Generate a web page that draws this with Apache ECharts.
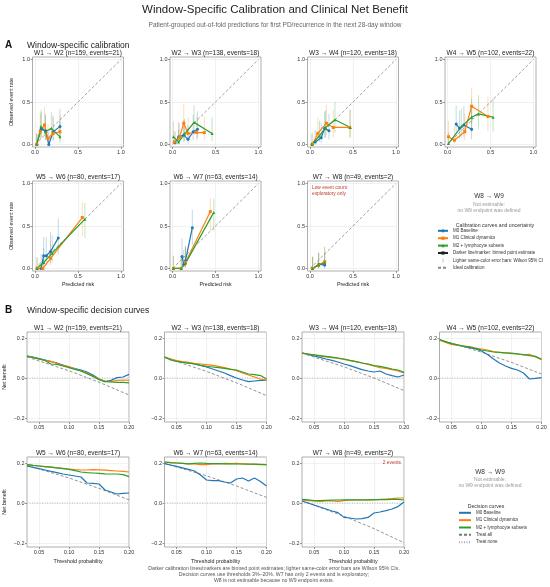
<!DOCTYPE html>
<html>
<head>
<meta charset="utf-8">
<script src="https://cdn.jsdelivr.net/npm/echarts@6/dist/echarts.min.js"></script>
<style>
  html, body { margin: 0; padding: 0; background: #fff; }
  #chart { width: 550px; height: 587px; }
</style>
</head>
<body>
<div id="chart"></div>
<script>
// 模型与窗口
const modelNames = ['M0 Baseline', 'M1 Clinical dynamics', 'M2 + lymphocyte subsets']
const modelColors = ['#1f77b4', '#ff7f0e', '#2ca02c']
const modelSymbols = ['circle', 'rect', 'triangle']

const windowTitles = [
  'W1 → W2 (n=159, events=21)',
  'W2 → W3 (n=138, events=18)',
  'W3 → W4 (n=120, events=18)',
  'W4 → W5 (n=102, events=22)',
  'W5 → W6 (n=80, events=17)',
  'W6 → W7 (n=63, events=14)',
  'W7 → W8 (n=49, events=2)'
]

// tick labels
const calTicks = [0, 0.5, 1]
const dcaXTicks = [0.05, 0.10, 0.15, 0.20]
const dcaYTicks = [-0.2, 0, 0.2]
const idealLine = [[0, 0], [1, 1]]
const treatNoneLine = [[0.03, 0], [0.20, 0]]

// calibration bins: [predicted, observed, ciLow, ciHigh]
const calW1M0 = [[0.02, 0.00, 0.00, 0.13], [0.07, 0.18, 0.07, 0.38], [0.12, 0.16, 0.06, 0.36], [0.16, 0.00, 0.00, 0.15], [0.21, 0.15, 0.05, 0.34], [0.29, 0.21, 0.09, 0.42]]
const calW1M1 = [[0.02, 0.00, 0.00, 0.13], [0.06, 0.15, 0.05, 0.35], [0.11, 0.23, 0.10, 0.44], [0.15, 0.07, 0.02, 0.24], [0.21, 0.13, 0.04, 0.32], [0.29, 0.15, 0.05, 0.35]]
const calW1M2 = [[0.02, 0.00, 0.00, 0.12], [0.07, 0.21, 0.09, 0.41], [0.12, 0.15, 0.05, 0.34], [0.19, 0.19, 0.08, 0.38], [0.29, 0.09, 0.02, 0.27]]

const calW2M0 = [[0.03, 0.02, 0.00, 0.15], [0.07, 0.09, 0.02, 0.26], [0.13, 0.11, 0.03, 0.29], [0.18, 0.06, 0.01, 0.22], [0.24, 0.15, 0.05, 0.35], [0.29, 0.18, 0.07, 0.39]]
const calW2M1 = [[0.02, 0.03, 0.00, 0.16], [0.08, 0.08, 0.02, 0.25], [0.13, 0.25, 0.11, 0.47], [0.18, 0.13, 0.04, 0.32], [0.28, 0.14, 0.05, 0.33], [0.37, 0.14, 0.05, 0.33]]
const calW2M2 = [[0.01, 0.09, 0.02, 0.27], [0.07, 0.03, 0.00, 0.17], [0.14, 0.12, 0.04, 0.30], [0.25, 0.26, 0.12, 0.46], [0.46, 0.13, 0.04, 0.32]]

const calW3M0 = [[0.06, 0.03, 0.00, 0.17], [0.13, 0.08, 0.02, 0.25], [0.17, 0.19, 0.08, 0.39], [0.22, 0.16, 0.06, 0.36]]
const calW3M1 = [[0.03, 0.00, 0.00, 0.14], [0.09, 0.13, 0.04, 0.32], [0.19, 0.25, 0.11, 0.47], [0.27, 0.20, 0.08, 0.41], [0.46, 0.20, 0.08, 0.41]]
const calW3M2 = [[0.02, 0.00, 0.00, 0.13], [0.11, 0.10, 0.03, 0.28], [0.18, 0.20, 0.08, 0.40], [0.29, 0.29, 0.14, 0.50], [0.47, 0.20, 0.08, 0.41]]

const calW4M0 = [[0.10, 0.24, 0.10, 0.46], [0.14, 0.19, 0.07, 0.40], [0.19, 0.23, 0.09, 0.45], [0.28, 0.18, 0.06, 0.40]]
const calW4M1 = [[0.01, 0.09, 0.02, 0.28], [0.08, 0.05, 0.01, 0.22], [0.20, 0.15, 0.05, 0.36], [0.28, 0.45, 0.25, 0.66], [0.47, 0.33, 0.16, 0.56]]
const calW4M2 = [[0.01, 0.01, 0.00, 0.14], [0.16, 0.21, 0.08, 0.42], [0.28, 0.32, 0.15, 0.54], [0.36, 0.36, 0.18, 0.58], [0.53, 0.32, 0.15, 0.54]]

const calW5M0 = [[0.07, 0.00, 0.00, 0.17], [0.10, 0.15, 0.04, 0.37], [0.13, 0.15, 0.04, 0.37], [0.18, 0.20, 0.07, 0.43], [0.27, 0.36, 0.17, 0.59]]
const calW5M1 = [[0.03, 0.00, 0.00, 0.13], [0.09, 0.00, 0.00, 0.13], [0.18, 0.12, 0.04, 0.32], [0.55, 0.60, 0.38, 0.78]]
const calW5M2 = [[0.02, 0.00, 0.00, 0.13], [0.10, 0.07, 0.01, 0.24], [0.20, 0.18, 0.07, 0.39], [0.58, 0.58, 0.36, 0.77]]

const calW6M0 = [[0.11, 0.14, 0.04, 0.35], [0.13, 0.05, 0.01, 0.22], [0.15, 0.09, 0.02, 0.27], [0.23, 0.48, 0.27, 0.69]]
const calW6M1 = [[0.01, 0.00, 0.00, 0.15], [0.10, 0.00, 0.00, 0.15], [0.15, 0.07, 0.01, 0.26], [0.44, 0.67, 0.45, 0.83]]
const calW6M2 = [[0.01, 0.00, 0.00, 0.15], [0.10, 0.00, 0.00, 0.15], [0.15, 0.06, 0.01, 0.25], [0.48, 0.66, 0.44, 0.82]]

const calW7M0 = [[0.03, 0.00, 0.00, 0.14], [0.10, 0.05, 0.01, 0.19], [0.17, 0.04, 0.00, 0.18]]
const calW7M1 = [[0.03, 0.00, 0.00, 0.14], [0.10, 0.04, 0.00, 0.18], [0.17, 0.08, 0.02, 0.26]]
const calW7M2 = [[0.03, 0.00, 0.00, 0.13], [0.10, 0.04, 0.00, 0.18], [0.17, 0.07, 0.02, 0.25]]

// decision curves: net benefit at each threshold
const thresholds = [0.03, 0.04, 0.05, 0.06, 0.07, 0.08, 0.09, 0.10, 0.11, 0.12, 0.13, 0.14, 0.15, 0.16, 0.17, 0.18, 0.19, 0.20]

const dcaW1M0 = [0.110, 0.104, 0.097, 0.090, 0.082, 0.075, 0.065, 0.055, 0.047, 0.040, 0.030, 0.015, -0.005, -0.018, -0.012, 0.002, 0.005, 0.018]
const dcaW1M1 = [0.110, 0.103, 0.095, 0.088, 0.083, 0.073, 0.062, 0.057, 0.045, 0.035, 0.025, 0.010, -0.005, -0.015, -0.018, -0.012, -0.010, -0.012]
const dcaW1M2 = [0.110, 0.102, 0.096, 0.088, 0.070, 0.068, 0.060, 0.052, 0.043, 0.035, 0.022, 0.008, -0.008, -0.018, -0.020, -0.022, -0.022, -0.024]

const dcaW2M0 = [0.105, 0.095, 0.085, 0.080, 0.075, 0.070, 0.063, 0.055, 0.045, 0.035, 0.025, 0.012, 0.000, -0.010, -0.018, -0.015, -0.012, -0.012]
const dcaW2M1 = [0.103, 0.095, 0.087, 0.082, 0.078, 0.073, 0.070, 0.067, 0.063, 0.058, 0.052, 0.045, 0.037, 0.025, 0.015, 0.005, -0.005, -0.012]
const dcaW2M2 = [0.105, 0.090, 0.083, 0.078, 0.074, 0.070, 0.063, 0.058, 0.055, 0.052, 0.048, 0.043, 0.040, 0.030, 0.020, 0.017, 0.012, -0.005]

const dcaW3M0 = [0.125, 0.118, 0.110, 0.103, 0.095, 0.088, 0.080, 0.070, 0.062, 0.052, 0.042, 0.035, 0.030, 0.035, 0.020, 0.012, 0.005, 0.015]
const dcaW3M1 = [0.125, 0.120, 0.115, 0.110, 0.106, 0.102, 0.098, 0.093, 0.087, 0.082, 0.075, 0.068, 0.060, 0.052, 0.048, 0.042, 0.035, 0.025]
const dcaW3M2 = [0.125, 0.120, 0.116, 0.112, 0.108, 0.104, 0.100, 0.095, 0.088, 0.082, 0.075, 0.070, 0.062, 0.058, 0.052, 0.045, 0.040, 0.028]

const dcaW4M0 = [0.190, 0.180, 0.172, 0.165, 0.158, 0.152, 0.145, 0.135, 0.118, 0.095, 0.075, 0.060, 0.048, 0.040, 0.025, -0.005, -0.002, 0.002]
const dcaW4M1 = [0.190, 0.178, 0.168, 0.163, 0.160, 0.157, 0.150, 0.145, 0.140, 0.132, 0.128, 0.125, 0.122, 0.120, 0.115, 0.118, 0.105, 0.092]
const dcaW4M2 = [0.192, 0.182, 0.172, 0.166, 0.160, 0.155, 0.148, 0.140, 0.135, 0.130, 0.128, 0.126, 0.124, 0.121, 0.117, 0.112, 0.108, 0.094]

const dcaW5M0 = [0.185, 0.178, 0.172, 0.165, 0.158, 0.152, 0.145, 0.140, 0.135, 0.130, 0.100, 0.098, 0.095, 0.065, 0.055, 0.045, 0.048, 0.050]
const dcaW5M1 = [0.192, 0.188, 0.185, 0.182, 0.179, 0.176, 0.173, 0.170, 0.167, 0.165, 0.165, 0.167, 0.166, 0.164, 0.162, 0.160, 0.158, 0.155]
const dcaW5M2 = [0.192, 0.188, 0.185, 0.182, 0.179, 0.176, 0.172, 0.168, 0.162, 0.155, 0.152, 0.150, 0.148, 0.146, 0.145, 0.145, 0.142, 0.132]

const dcaW6M0 = [0.197, 0.190, 0.183, 0.176, 0.168, 0.160, 0.140, 0.115, 0.112, 0.112, 0.105, 0.100, 0.120, 0.125, 0.110, 0.125, 0.108, 0.085]
const dcaW6M1 = [0.205, 0.202, 0.200, 0.198, 0.196, 0.195, 0.192, 0.192, 0.195, 0.196, 0.198, 0.197, 0.198, 0.196, 0.194, 0.193, 0.192, 0.192]
const dcaW6M2 = [0.205, 0.202, 0.200, 0.198, 0.196, 0.198, 0.200, 0.198, 0.197, 0.197, 0.196, 0.196, 0.195, 0.195, 0.194, 0.194, 0.193, 0.192]

const dcaW7M0 = [0.010, 0.000, -0.010, -0.020, -0.030, -0.040, -0.048, -0.072, -0.075, -0.080, -0.078, -0.072, -0.050, -0.045, -0.038, -0.030, -0.018, 0.005]
const dcaW7M1 = [0.015, 0.012, 0.010, 0.008, 0.010, 0.010, 0.008, 0.012, 0.015, 0.015, 0.015, 0.016, 0.016, 0.018, 0.020, 0.022, 0.025, 0.025]
const dcaW7M2 = [0.018, 0.016, 0.012, 0.012, 0.013, 0.014, 0.015, 0.016, 0.016, 0.016, 0.016, 0.016, 0.017, 0.017, 0.017, 0.018, 0.018, 0.015]

// treat all
const treatAllX = [0.03, 0.10, 0.15, 0.20]
const treatAllW1 = [0.105, 0.036, -0.021, -0.085]
const treatAllW2 = [0.103, 0.033, -0.024, -0.088]
const treatAllW3 = [0.124, 0.056, 0.000, -0.063]
const treatAllW4 = [0.192, 0.129, 0.078, 0.020]
const treatAllW5 = [0.188, 0.125, 0.073, 0.016]
const treatAllW6 = [0.198, 0.136, 0.085, 0.028]
const treatAllW7 = [0.011, -0.066, -0.128, -0.199]

const calPanels = [
  [calW1M0, calW1M1, calW1M2], [calW2M0, calW2M1, calW2M2], [calW3M0, calW3M1, calW3M2],
  [calW4M0, calW4M1, calW4M2], [calW5M0, calW5M1, calW5M2], [calW6M0, calW6M1, calW6M2],
  [calW7M0, calW7M1, calW7M2]
]
const dcaPanels = [
  [dcaW1M0, dcaW1M1, dcaW1M2], [dcaW2M0, dcaW2M1, dcaW2M2], [dcaW3M0, dcaW3M1, dcaW3M2],
  [dcaW4M0, dcaW4M1, dcaW4M2], [dcaW5M0, dcaW5M1, dcaW5M2], [dcaW6M0, dcaW6M1, dcaW6M2],
  [dcaW7M0, dcaW7M1, dcaW7M2]
]
const treatAllPanels = [treatAllW1, treatAllW2, treatAllW3, treatAllW4, treatAllW5, treatAllW6, treatAllW7]

const FONT = 'Liberation Sans, Arial, sans-serif'
const calLeft = [32.5, 170, 307.5, 445]
const calTop = [57, 181]
const dcaLeft = [27, 164.5, 302, 439.5]
const dcaTop = [332, 457]

const fmt1 = v => (v < 0 ? '−' : '') + Math.abs(v).toFixed(1)
const fmt2 = v => v.toFixed(2)

function valueAxis (gridIndex, min, max, ticks, formatter, name, nameGap) {
  return {
    type: 'value',
    gridIndex,
    min,
    max,
    name,
    nameLocation: 'middle',
    nameGap,
    nameTextStyle: { fontSize: 5.3, color: '#222', fontFamily: FONT },
    axisLine: { show: false, onZero: false },
    axisTick: { show: true, length: 2, customValues: ticks, lineStyle: { color: '#555', width: 0.6 } },
    axisLabel: { customValues: ticks, fontSize: 5.5, color: '#333', margin: 2.5, formatter, fontFamily: FONT },
    splitLine: { show: true, customValues: ticks, lineStyle: { color: '#e8e8e8', width: 0.6 } }
  }
}

function panelTitle (text, cx, top) {
  return {
    text, left: cx, top, padding: 0, textAlign: 'center',
    textStyle: { fontSize: 6.5, fontWeight: 'normal', color: '#222', fontFamily: FONT }
  }
}

// 误差线
function errorBar (color) {
  return (params, api) => {
    const lo = api.coord([api.value(0), api.value(2)])
    const hi = api.coord([api.value(0), api.value(3)])
    return {
      type: 'line',
      shape: { x1: lo[0], y1: lo[1], x2: hi[0], y2: hi[1] },
      style: { stroke: color, lineWidth: 1, opacity: 0.28 }
    }
  }
}

const grids = []
const xAxes = []
const yAxes = []
const series = []
const titles = []

calPanels.forEach((models, i) => {
  const col = i % 4
  const row = Math.floor(i / 4)
  const g = grids.length
  grids.push({ left: calLeft[col], top: calTop[row], width: 91, height: 90, show: true, borderColor: '#999', borderWidth: 0.8 })
  xAxes.push(valueAxis(g, -0.03, 1.03, calTicks, fmt1, row === 1 ? 'Predicted risk' : '', 11))
  yAxes.push(valueAxis(g, -0.03, 1.03, calTicks, fmt1, col === 0 ? 'Observed event rate' : '', 18))
  titles.push(panelTitle(windowTitles[i], calLeft[col] + 45.5, calTop[row] - 7.5))
  series.push({
    type: 'line', name: 'Ideal calibration', xAxisIndex: g, yAxisIndex: g, data: idealLine,
    symbol: 'none', silent: true, z: 1,
    lineStyle: { color: '#888', width: 0.8, type: [3, 2] }, itemStyle: { color: '#888' }
  })
  models.forEach((pts, m) => {
    series.push({
      type: 'custom', name: modelNames[m] + ' CI', xAxisIndex: g, yAxisIndex: g,
      data: pts, encode: { x: 0, y: [2, 3] }, renderItem: errorBar(modelColors[m]), silent: true, z: 2
    })
  })
  models.forEach((pts, m) => {
    series.push({
      type: 'line', name: modelNames[m], xAxisIndex: g, yAxisIndex: g,
      data: pts.map(p => [p[0], p[1]]),
      symbol: modelSymbols[m], symbolSize: 3, z: 3,
      lineStyle: { color: modelColors[m], width: 1.2 }, itemStyle: { color: modelColors[m] }
    })
  })
})

// legend only entries
series.push({
  type: 'line', name: 'Darker line/marker: binned point estimate', xAxisIndex: 0, yAxisIndex: 0, data: [],
  symbol: 'rect', lineStyle: { color: '#222', width: 1.2 }, itemStyle: { color: '#222' }
})
series.push({
  type: 'line', name: 'Lighter same-color error bars: Wilson 95% CI', xAxisIndex: 0, yAxisIndex: 0, data: [],
  symbol: 'none', lineStyle: { color: '#bbb' }, itemStyle: { color: '#bbb' }
})

dcaPanels.forEach((models, i) => {
  const col = i % 4
  const row = Math.floor(i / 4)
  const g = grids.length
  grids.push({ left: dcaLeft[col], top: dcaTop[row], width: 102, height: 90, show: true, borderColor: '#999', borderWidth: 0.8 })
  xAxes.push(valueAxis(g, 0.03, 0.20, dcaXTicks, fmt2, row === 1 ? 'Threshold probability' : '', 12))
  yAxes.push(valueAxis(g, -0.22, 0.23, dcaYTicks, fmt1, col === 0 ? 'Net benefit' : '', 20))
  titles.push(panelTitle(windowTitles[i], dcaLeft[col] + 51, dcaTop[row] - 7.5))
  series.push({
    type: 'line', name: 'Treat none', xAxisIndex: g, yAxisIndex: g, data: treatNoneLine,
    symbol: 'none', silent: true, z: 1,
    lineStyle: { color: '#aaa', width: 0.8, type: [1, 1.5] }, itemStyle: { color: '#aaa' }
  })
  series.push({
    type: 'line', name: 'Treat all', xAxisIndex: g, yAxisIndex: g,
    data: treatAllX.map((t, k) => [t, treatAllPanels[i][k]]),
    symbol: 'none', silent: true, z: 1,
    lineStyle: { color: '#777', width: 0.8, type: [3, 2] }, itemStyle: { color: '#777' }
  })
  models.forEach((vals, m) => {
    series.push({
      type: 'line', name: 'dca:' + modelNames[m], xAxisIndex: g, yAxisIndex: g,
      data: thresholds.map((t, k) => [t, vals[k]]),
      symbol: 'none', z: 3,
      lineStyle: { color: modelColors[m], width: 1.2 }, itemStyle: { color: modelColors[m] }
    })
  })
})

const smallText = (text, left, top, size, color, align) => ({
  text, left, top, padding: 0, textAlign: align || 'left',
  textStyle: { fontSize: size, fontWeight: 'normal', color, fontFamily: FONT, lineHeight: size * 1.2 }
})

titles.push(
  smallText('Window-Specific Calibration and Clinical Net Benefit', 275, 3, 11.5, '#222', 'center'),
  smallText('Patient-grouped out-of-fold predictions for first PD/recurrence in the next 28-day window', 275, 21, 6.5, '#666', 'center'),
  { text: 'A', left: 5, top: 40, padding: 0, textStyle: { fontSize: 10, fontWeight: 'bold', color: '#111', fontFamily: FONT } },
  smallText('Window-specific calibration', 27, 41, 8.5, '#222'),
  { text: 'B', left: 5, top: 305, padding: 0, textStyle: { fontSize: 10, fontWeight: 'bold', color: '#111', fontFamily: FONT } },
  smallText('Window-specific decision curves', 27, 306, 8.5, '#222'),
  smallText('Low event count:\nexploratory only', 312, 185, 4.8, '#c0392b'),
  smallText('2 events', 401, 460, 4.8, '#c0392b', 'right'),
  smallText('W8 → W9', 489, 192, 6.5, '#333', 'center'),
  smallText('Not estimable:\nno W9 endpoint was defined', 489, 202, 5, '#999', 'center'),
  smallText('Calibration curves and uncertainty', 495, 222, 5.2, '#333', 'center'),
  smallText('W8 → W9', 490, 468, 6.5, '#333', 'center'),
  smallText('Not estimable:\nno W9 endpoint was defined', 490, 477, 5, '#999', 'center'),
  smallText('Decision curves', 486, 503, 5.2, '#333', 'center'),
  smallText('Darker calibration lines/markers are binned point estimates; lighter same-color error bars are Wilson 95% CIs.\nDecision curves use thresholds 3%–20%. W7 has only 2 events and is exploratory;\nW8 is not estimable because no W9 endpoint exists.', 274, 565, 5.2, '#555', 'center')
)

const legendText = { fontSize: 4.5, color: '#333', fontFamily: FONT, lineHeight: 4 }
const hideMarker = { opacity: 0 }

const option = {
  animation: false,
  backgroundColor: '#fff',
  title: titles,
  grid: grids,
  xAxis: xAxes,
  yAxis: yAxes,
  legend: [
    {
      left: 437, top: 228.3, orient: 'vertical', padding: 0,
      itemWidth: 10, itemHeight: 4, itemGap: 2.4, selectedMode: false,
      textStyle: legendText,
      data: [
        modelNames[0], modelNames[1], modelNames[2],
        'Darker line/marker: binned point estimate',
        { name: 'Lighter same-color error bars: Wilson 95% CI', icon: 'path://M0,0H2V9H0Z' },
        { name: 'Ideal calibration', itemStyle: hideMarker }
      ]
    },
    {
      left: 458, top: 510.3, orient: 'vertical', padding: 0,
      itemWidth: 12, itemHeight: 4, itemGap: 2.35, selectedMode: false,
      textStyle: legendText,
      formatter: name => name.replace('dca:', ''),
      data: [
        { name: 'dca:' + modelNames[0], itemStyle: hideMarker },
        { name: 'dca:' + modelNames[1], itemStyle: hideMarker },
        { name: 'dca:' + modelNames[2], itemStyle: hideMarker },
        { name: 'Treat all', itemStyle: hideMarker },
        { name: 'Treat none', itemStyle: hideMarker }
      ]
    }
  ],
  series
}

const chart = echarts.init(document.getElementById('chart'), null, { renderer: 'canvas' })
chart.setOption(option)
</script>
</body>
</html>
